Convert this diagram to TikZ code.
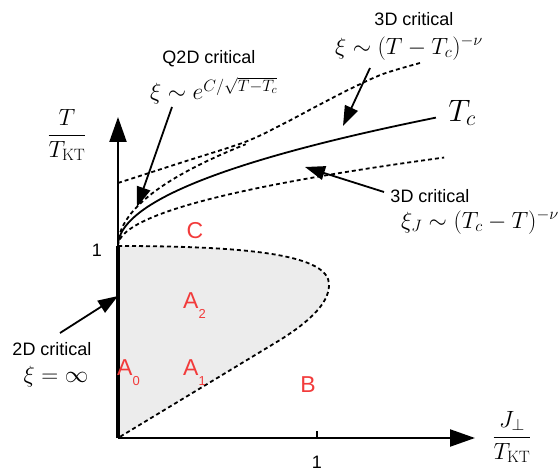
\documentclass[tikz,border=0pt]{standalone}
\usepackage{fix-cm}
\usepackage{amsmath}
\usepackage{fontspec}
\newfontfamily\lsans{Liberation Sans}
\usetikzlibrary{arrows.meta}
\definecolor{lblred}{HTML}{F23B3B}
\definecolor{regfill}{HTML}{ECECEC}
\newcommand{\regsub}[1]{\raisebox{-10pt}{\fontsize{13}{13}\selectfont #1}}

\begin{document}
\begin{tikzpicture}[x=1pt,y=-1pt,>={Triangle[length=20pt,width=14pt]},
  axis/.style={line width=2.2pt,-{Triangle[length=25pt,width=17pt]}},
  crit/.style={line width=1.8pt,dash pattern=on 4pt off 3pt},
  tcline/.style={line width=1.8pt},
  call/.style={line width=1.8pt,->},
  txt/.style={font=\lsans\fontsize{18}{20}\selectfont,inner sep=0pt},
  eqn/.style={font=\fontsize{23.5}{25}\selectfont,inner sep=0pt},
  reg/.style={font=\lsans\fontsize{23}{24}\selectfont,text=lblred,inner sep=0pt}]
  \useasboundingbox (0,0) rectangle (559,470);

  \coordinate (O) at (118,438);
  \coordinate (ytop) at (118,117);
  \coordinate (xend) at (475,438);
  \coordinate (kt) at (118,246);

  % region A (shaded)
  \fill[regfill] (kt) .. controls (250,246) and (330,255) .. (329,285)
    .. controls (329,302) and (312,320) .. (280,340) -- (O) -- cycle;
  \draw[crit] (kt) .. controls (250,246) and (330,255) .. (329,285)
    .. controls (329,302) and (312,320) .. (280,340) -- (O);

  % axes
  \draw[axis] (O) -- (ytop);
  \draw[axis] (O) -- (xend);
  \draw[line width=4pt] (O) -- (kt);
  \draw[line width=2pt] (317,438) -- (317,431);

  % crossover lines
  \draw[tcline] plot[domain=0:17.83,samples=70,variable=\t] ({118+\t*\t},{246-7.2*\t});
  \draw[crit] plot[domain=0:18.06,samples=70,variable=\t] ({118+\t*\t},{246-4.9*\t});
  \draw[crit] plot[domain=0:11.3,samples=50,variable=\t] ({118+\t*\t},{246-9*\t});
  \draw[crit] plot[smooth] coordinates {(118,183) (180,163) (245,142) (283,124)
    (317,106) (350,89) (383,74) (420,63)};

  % labels
  \node[eqn] (ylab) at (67,135) {$\dfrac{T}{T_{\mathrm{KT}}}$};
  \node[eqn] (xlab) at (512,437) {$\dfrac{J_\perp}{T_{\mathrm{KT}}}$};
  \node[txt] (yone) at (97,250) {1};
  \node[txt] (xone) at (317,462) {1};
  \node[font=\fontsize{31}{33}\selectfont,inner sep=0pt] (tclab) at (462,113) {$T_c$};

  \node[txt] (q2dlab) at (209,59) {Q2D critical};
  \node[eqn] (q2deq) at (214,91) {$\xi\sim e^{C/\sqrt{T-T_c}}$};
  \node[txt] (up3dlab) at (414,19) {3D critical};
  \node[eqn] (up3deq) at (409,48) {$\xi\sim(T-T_c)^{-\nu}$};
  \node[txt] (lo3dlab) at (430,196) {3D critical};
  \node[eqn,anchor=east] (lo3deq) at (559,222) {$\xi_J\sim(T_c-T)^{-\nu}$};
  \node[txt] (d2lab) at (52,349) {2D critical};
  \node[eqn] (d2eq) at (56,377) {$\xi=\infty$};

  \node[reg] (regC) at (195,231) {C};
  \node[reg,anchor=base west] (regA2) at (183,308) {A\regsub{2}};
  \node[reg,anchor=base west] (regA0) at (117,375) {A\regsub{0}};
  \node[reg,anchor=base west] (regA1) at (183,375) {A\regsub{1}};
  \node[reg] (regB) at (308,385) {B};

  % pointers
  \coordinate (q2dtail) at (172,107);
  \coordinate (q2dtip) at (137,207);
  \coordinate (up3dtail) at (370,68);
  \coordinate (up3dtip) at (343,126);
  \coordinate (lo3dtail) at (384,192);
  \coordinate (lo3dtip) at (305,167);
  \coordinate (d2tail) at (60,333);
  \coordinate (d2tip) at (118,296);
  \draw[call] (q2dtail) -- (q2dtip);
  \draw[call] (up3dtail) -- (up3dtip);
  \draw[call] (lo3dtail) -- (lo3dtip);
  \draw[call] (d2tail) -- (d2tip);
\end{tikzpicture}
\end{document}
